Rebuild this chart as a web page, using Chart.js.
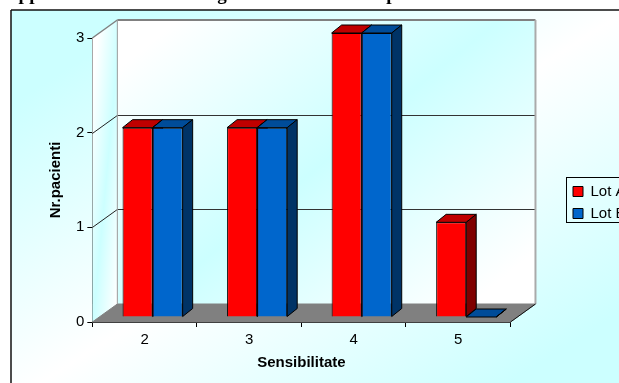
<!DOCTYPE html>
<html>
<head>
<meta charset="utf-8">
<style>
html, body { margin: 0; padding: 0; background: #fff; overflow: hidden; }
#wrap { position: relative; width: 619px; height: 383px; overflow: hidden; }
#heading { position: absolute; left: 8px; top: -17px; white-space: nowrap; font: bold 19px "Liberation Serif"; color: #000; word-spacing: 8px; }
#heading span { word-spacing: 23px; }
canvas { position: absolute; left: 0; top: 0; }
</style>
<script src="https://cdn.jsdelivr.net/npm/chart.js@4"></script>
</head>
<body>
<div id="wrap">
<canvas id="lotChart" width="619" height="383"></canvas>
<div id="heading"><span>upper canines during </span>the retraction phase</div>
</div>
<script>
let categories = ['2', '3', '4', '5'];
let lotA = [2, 2, 3, 1];
let lotB = [2, 2, 3, 0];
let seriesNames = ['Lot A', 'Lot B'];
let faceColors = ['#ff0000', '#0066cc'];
let topColors = ['#bf0000', '#004c99'];
let sideColors = ['#7f0000', '#003366'];

// depth of the box and of the bars, in px
let wallDX = 25, wallDY = -18;
let barDX = 8, barDY = -5;
let barDepthX = 10, barDepthY = -8;

function poly(c, pts, fill, stroke, lw) {
	c.beginPath();
	pts.forEach(function (p, i) {
		if (i == 0) c.moveTo(p[0], p[1]);
		else c.lineTo(p[0], p[1]);
	});
	c.closePath();
	if (fill) { c.fillStyle = fill; c.fill(); }
	if (stroke) { c.strokeStyle = stroke; c.lineWidth = lw || 1; c.stroke(); }
}

function line(c, x1, y1, x2, y2, color, lw) {
	c.beginPath();
	c.moveTo(x1, y1);
	c.lineTo(x2, y2);
	c.strokeStyle = color;
	c.lineWidth = lw || 1;
	c.stroke();
}

function grad(c, x1, y1, x2, y2, stops) {
	let g = c.createLinearGradient(x1, y1, x2, y2);
	stops.forEach(function (s) { g.addColorStop(s[0], s[1]); });
	return g;
}

let box3d = {
	id: 'box3d',
	afterLayout: function (chart) {
		// the legend sits away from the plot
		let l = chart.legend;
		let w = l.width;
		l.left = 566; l.right = 566 + w;
		l.top = 177; l.bottom = 177 + 80; l.height = 80;
	},
	beforeDraw: function (chart) {
		let c = chart.ctx;
		c.save();
		// outer frame
		c.fillStyle = grad(c, 128, -64, 482, 494, [[0.12, '#ccffff'], [0.5, '#ffffff'], [0.88, '#ccffff']]);
		c.fillRect(11, 10, 640, 400);
		line(c, 11, 10, 640, 10, '#111', 1.5);
		line(c, 11, 10, 11, 383, '#111', 1.5);
		c.restore();
	},
	beforeDatasetsDraw: function (chart) {
		let c = chart.ctx, x = chart.scales.x, y = chart.scales.y;
		let L = x.left, R = x.right, T = y.getPixelForValue(3), B = y.getPixelForValue(0);
		c.save();
		// back wall, left wall, floor
		poly(c, [[L + wallDX, T + wallDY], [R + wallDX, T + wallDY], [R + wallDX, B + wallDY], [L + wallDX, B + wallDY]],
			grad(c, 174, -26, 478, 348, [[0.08, '#ffffff'], [0.5, '#ccffff'], [0.92, '#ffffff']]));
		poly(c, [[L, T], [L + wallDX, T + wallDY], [L + wallDX, B + wallDY], [L, B]],
			grad(c, 79, 180, 133, 185, [[0.1, '#ffffff'], [0.5, '#ccffff'], [0.9, '#ffffff']]));
		poly(c, [[L, B], [R, B], [R + wallDX, B + wallDY], [L + wallDX, B + wallDY]], '#808080', '#808080');
		// grid on the walls
		[1, 2].forEach(function (v) {
			let py = Math.round(y.getPixelForValue(v)) + 0.5;
			line(c, L, py, L + wallDX, py + wallDY, '#222');
			line(c, L + wallDX, py + wallDY, R + wallDX, py + wallDY, '#333');
		});
		line(c, L, T, L + wallDX, T + wallDY, '#808080', 1.5);
		line(c, L + wallDX, T + wallDY, R + wallDX, T + wallDY, '#808080', 2);
		line(c, L + wallDX, T + wallDY, L + wallDX, B + wallDY, '#999', 1);
		line(c, R + wallDX, T + wallDY, R + wallDX, B + wallDY, '#aaa', 2);
		line(c, R, B, R + wallDX, B + wallDY, '#111', 1);

		// top and side of each bar, fronts come from the library
		c.translate(barDX, barDY);
		categories.forEach(function (cat, i) {
			chart.data.datasets.forEach(function (ds, d) {
				let b = chart.getDatasetMeta(d).data[i];
				let half = b.width / 2, x0 = b.x - half, x1 = b.x + half;
				let base = b.base, top = b.y;
				poly(c, [[x0, top], [x1, top], [x1 + barDepthX, top + barDepthY], [x0 + barDepthX, top + barDepthY]], topColors[d], '#000');
				poly(c, [[x1, top], [x1 + barDepthX, top + barDepthY], [x1 + barDepthX, base + barDepthY], [x1, base]], sideColors[d], '#000');
			});
		});
		c.restore();
		c.save();
		c.translate(barDX, barDY);
	},
	afterDatasetsDraw: function (chart) {
		chart.ctx.restore();
	},
	afterDraw: function (chart) {
		let c = chart.ctx, l = chart.legend;
		c.save();
		c.strokeStyle = '#000';
		c.lineWidth = 1;
		c.strokeRect(l.left + 0.5, l.top + 0.5, 80, 45);
		c.restore();
	}
};

let lotChart = new Chart(document.getElementById('lotChart').getContext('2d'), {
	type: 'bar',
	plugins: [box3d],
	data: {
		labels: categories,
		datasets: [
			{ label: seriesNames[0], data: lotA, backgroundColor: faceColors[0], borderColor: '#000', borderWidth: 1 },
			{ label: seriesNames[1], data: lotB, backgroundColor: faceColors[1], borderColor: '#000', borderWidth: 1 }
		]
	},
	options: {
		responsive: false,
		animation: false,
		layout: { padding: { left: 47, top: 38, right: 39, bottom: 11 } },
		datasets: { bar: { barPercentage: 1, categoryPercentage: 0.575 } },
		scales: {
			x: {
				grid: { drawOnChartArea: false, color: '#000', tickLength: 5, tickColor: '#000' },
				border: { color: '#000', width: 1 },
				ticks: { color: '#000', font: { family: 'Liberation Sans', size: 15 }, padding: 4, maxRotation: 0 },
				title: { display: true, text: 'Sensibilitate', color: '#000', font: { family: 'Liberation Sans', size: 15, weight: 'bold' }, padding: { top: 1, bottom: 0 } }
			},
			y: {
				min: 0,
				max: 3,
				grid: { drawOnChartArea: false, tickLength: 5, tickColor: '#000' },
				border: { color: '#000', width: 1 },
				ticks: { stepSize: 1, color: '#000', font: { family: 'Liberation Sans', size: 15 }, padding: 3 },
				title: { display: true, text: 'Nr.pacienti', color: '#000', font: { family: 'Liberation Sans', size: 15, weight: 'bold' }, padding: { top: 0, bottom: 8 } }
			}
		},
		plugins: {
			tooltip: { enabled: false },
			legend: {
				position: 'right',
				align: 'start',
				labels: { color: '#000', boxWidth: 10, boxHeight: 10, padding: 7, font: { family: 'Liberation Sans', size: 15 } }
			}
		}
	}
});
</script>
</body>
</html>
